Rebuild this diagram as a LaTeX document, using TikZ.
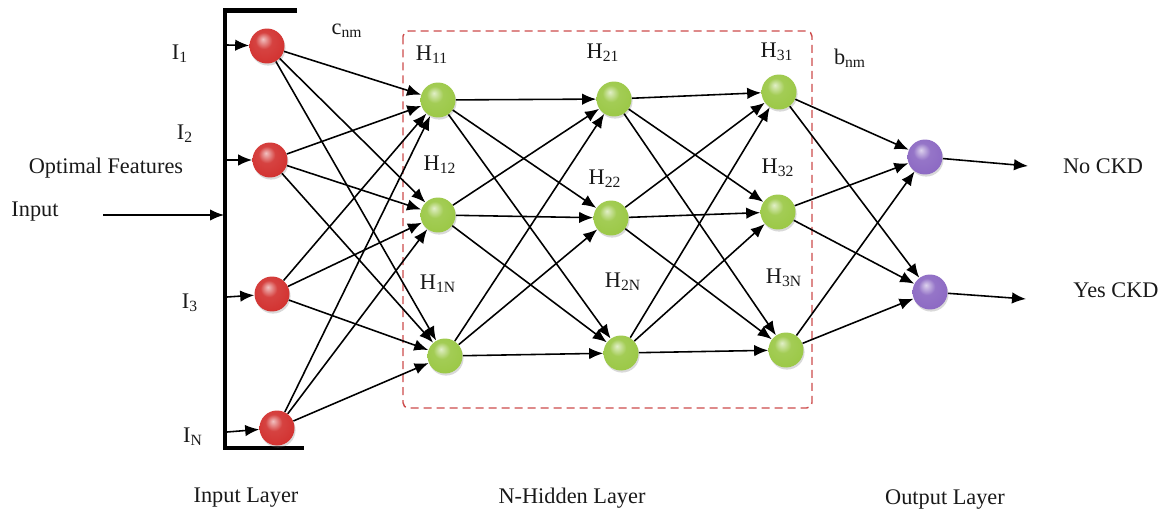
\documentclass[tikz,border=0pt]{standalone}
\usepackage{fontspec}
\setmainfont{Liberation Serif}
\usepackage{xcolor}
\usetikzlibrary{arrows.meta,shadows}
\definecolor{colInput}{RGB}{210, 50, 48}
\definecolor{colHidden}{RGB}{155, 200, 70}
\definecolor{colOutput}{RGB}{140, 105, 195}
\definecolor{colBox}{RGB}{205, 75, 75}
\definecolor{darkText}{RGB}{25, 25, 25}

% Softer ball shading than the built-in one
\makeatletter
\pgfdeclareradialshading[tikz@ball]{softball}{\pgfqpoint{-6bp}{10bp}}{%
  color(0bp)=(tikz@ball!30!white);
  color(12bp)=(tikz@ball!92!white);
  color(30bp)=(tikz@ball);
  color(44bp)=(tikz@ball!82!black);
  color(50bp)=(tikz@ball!72!black)}
\makeatother

\begin{document}
\begin{tikzpicture}[x=0.02cm, y=-0.02cm, >={Latex[length=2.8mm,width=2.3mm]},
  font=\fontsize{12.7}{15}\selectfont]

  % Page frame (pixel grid of the reference, y pointing down)
  \useasboundingbox (0,0) rectangle (1168,513);

  % Helper styles for neurons, connectors and labels
  \tikzset{
    neuron/.style={
      circle, minimum size=0.7cm, inner sep=0pt,
      drop shadow={opacity=0.3, shadow xshift=0.6pt, shadow yshift=-1.2pt}
    },
    inNeuron/.style={neuron, ball color=colInput, shading=softball},
    hidNeuron/.style={neuron, ball color=colHidden, shading=softball},
    outNeuron/.style={neuron, ball color=colOutput, shading=softball},
    conn/.style={->, line width=0.9pt},
    lbl/.style={text=darkText, inner sep=0pt}
  }

  % Hidden block (dashed frame)
  \draw[colBox, line width=0.8pt, dash pattern=on 0.16cm off 0.1cm, rounded corners=3pt]
    (403,31) rectangle (812,408);

  % Input bracket
  \draw[line width=2.6pt] (297,10.5) -- (225,10.5) -- (225,448) -- (304,448);

  % --- Neurons ---
  \node[inNeuron] (i1) at (267,46) {};
  \node[inNeuron] (i2) at (270,160) {};
  \node[inNeuron] (i3) at (272,294) {};
  \node[inNeuron] (iN) at (277,428) {};

  \node[hidNeuron] (h11) at (438,100) {};
  \node[hidNeuron] (h12) at (438,215) {};
  \node[hidNeuron] (h1N) at (445,356) {};

  \node[hidNeuron] (h21) at (614,99) {};
  \node[hidNeuron] (h22) at (611,218) {};
  \node[hidNeuron] (h2N) at (621,353) {};

  \node[hidNeuron] (h31) at (779,92) {};
  \node[hidNeuron] (h32) at (778,212) {};
  \node[hidNeuron] (h3N) at (786,350) {};

  \node[outNeuron] (o1) at (925,157) {};
  \node[outNeuron] (o2) at (930,292) {};

  % Free ends of the outer arrows
  \coordinate (inStart) at (103,215);
  \coordinate (inEnd)   at (224,215);
  \coordinate (t1) at (227,45);
  \coordinate (t2) at (227,160);
  \coordinate (t3) at (227,297);
  \coordinate (tN) at (227,432);
  \coordinate (noEnd)  at (1028,166);
  \coordinate (yesEnd) at (1026,299);

  % Input arrows
  \draw[conn] (inStart) -- (inEnd);
  \draw[conn] (t1) -- (i1);
  \draw[conn] (t2) -- (i2);
  \draw[conn] (t3) -- (i3);
  \draw[conn] (tN) -- (iN);

  % Input layer -> first hidden layer
  \draw[conn] (i1) -- (h11);
  \draw[conn] (i1) -- (h12);
  \draw[conn] (i1) -- (h1N);
  \draw[conn] (i2) -- (h11);
  \draw[conn] (i2) -- (h12);
  \draw[conn] (i2) -- (h1N);
  \draw[conn] (i3) -- (h11);
  \draw[conn] (i3) -- (h12);
  \draw[conn] (i3) -- (h1N);
  \draw[conn] (iN) -- (h11);
  \draw[conn] (iN) -- (h12);
  \draw[conn] (iN) -- (h1N);

  % First -> second hidden layer
  \draw[conn] (h11) -- (h21);
  \draw[conn] (h11) -- (h22);
  \draw[conn] (h11) -- (h2N);
  \draw[conn] (h12) -- (h21);
  \draw[conn] (h12) -- (h22);
  \draw[conn] (h12) -- (h2N);
  \draw[conn] (h1N) -- (h21);
  \draw[conn] (h1N) -- (h22);
  \draw[conn] (h1N) -- (h2N);

  % Second -> third hidden layer
  \draw[conn] (h21) -- (h31);
  \draw[conn] (h21) -- (h32);
  \draw[conn] (h21) -- (h3N);
  \draw[conn] (h22) -- (h31);
  \draw[conn] (h22) -- (h32);
  \draw[conn] (h22) -- (h3N);
  \draw[conn] (h2N) -- (h31);
  \draw[conn] (h2N) -- (h32);
  \draw[conn] (h2N) -- (h3N);

  % Third hidden layer -> output layer
  \draw[conn] (h31) -- (o1);
  \draw[conn] (h31) -- (o2);
  \draw[conn] (h32) -- (o1);
  \draw[conn] (h32) -- (o2);
  \draw[conn] (h3N) -- (o1);
  \draw[conn] (h3N) -- (o2);

  % Outputs
  \draw[conn] (o1) -- (noEnd);
  \draw[conn] (o2) -- (yesEnd);

  % --- Labels ---
  \node[lbl] (lInput) at (35,212)  {Input};
  \node[lbl] (lOpt)   at (106,168) {Optimal Features};
  \node[lbl] (lI1) at (180,54)  {I\textsubscript{1}};
  \node[lbl] (lI2) at (185,134) {I\textsubscript{2}};
  \node[lbl] (lI3) at (190,303) {I\textsubscript{3}};
  \node[lbl] (lIN) at (193,437) {I\textsubscript{N}};
  \node[lbl] (lc)  at (347,31)  {c\textsubscript{nm}};
  \node[lbl] (lb)  at (850,58)  {b\textsubscript{nm}};

  \node[lbl] (lH11) at (432,55)  {H\textsubscript{11}};
  \node[lbl] (lH12) at (440,165) {H\textsubscript{12}};
  \node[lbl] (lH1N) at (438,284) {H\textsubscript{1N}};
  \node[lbl] (lH21) at (603,53)  {H\textsubscript{21}};
  \node[lbl] (lH22) at (605,179) {H\textsubscript{22}};
  \node[lbl] (lH2N) at (623,282) {H\textsubscript{2N}};
  \node[lbl] (lH31) at (777,52)  {H\textsubscript{31}};
  \node[lbl] (lH32) at (778,168) {H\textsubscript{32}};
  \node[lbl] (lH3N) at (784,278) {H\textsubscript{3N}};

  \node[lbl] (lNo)  at (1103,166) {No CKD};
  \node[lbl] (lYes) at (1116,290) {Yes CKD};

  \node[lbl] (lInLayer)  at (246,498) {Input Layer};
  \node[lbl] (lHidLayer) at (572,498) {N-Hidden Layer};
  \node[lbl] (lOutLayer) at (945,500) {Output Layer};

\end{tikzpicture}
\end{document}
